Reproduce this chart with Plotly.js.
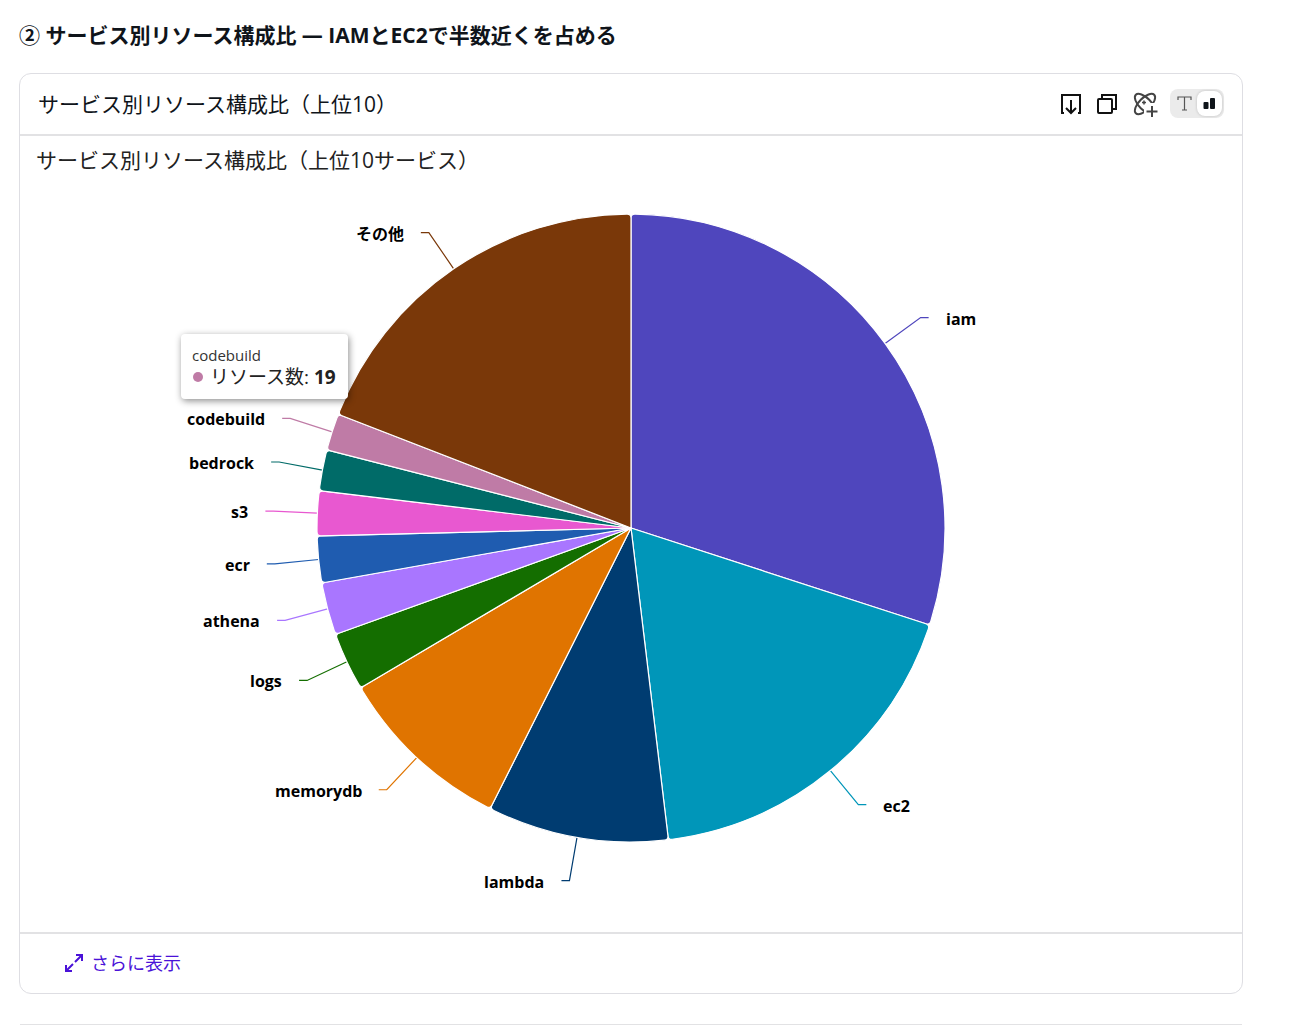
<!DOCTYPE html>
<html lang="ja"><head><meta charset="utf-8">
<script src="https://cdn.plot.ly/plotly-3.0.1.min.js"></script>
<style>
html,body{margin:0;padding:0;background:#fff;width:1298px;height:1025px;overflow:hidden;font-family:"Open Sans","Noto Sans CJK JP",sans-serif;color:#0f141a}
.abs{position:absolute}
#h1{left:19px;top:20px;font-size:21px;font-weight:700;line-height:30px;white-space:nowrap}
#card{left:19px;top:73px;width:1222px;height:919px;border:1px solid #dedee3;border-radius:12px}
#head{left:38px;top:89px;font-size:21px;line-height:30px;white-space:nowrap}
#d1{left:20px;top:134px;width:1222px;height:2px;background:#e2e2e4}
#d2{left:20px;top:932px;width:1222px;height:2px;background:#e2e2e4}
#d3{left:20px;top:1024px;width:1222px;height:1px;background:#e2e2e4}
#plot{left:20px;top:136px;width:1222px;height:796px}
#more{left:91px;top:950px;font-size:18px;line-height:26px;color:#4a12d8;white-space:nowrap}
#tip{left:181px;top:334px;width:167px;height:65px;background:#fff;border-radius:4px;box-shadow:1px 2px 7px rgba(0,0,0,.45);font-size:15px}
#tip .n{position:absolute;left:11px;top:11px;line-height:20px;color:#333}
#tip .v{position:absolute;left:29px;top:30px;line-height:26px;font-size:19px;white-space:nowrap;color:#222}
#tip .dot{position:absolute;left:12px;top:38px;width:10px;height:10px;border-radius:50%}
#toggle{left:1170px;top:89px;width:54px;height:29px;background:#ebebeb;border-radius:8px}
#tgl{left:1197px;top:91px;width:25px;height:25px;background:#fff;border-radius:8px;box-shadow:0 0 3px rgba(0,0,0,.2)}
</style></head><body>
<div id="h1" class="abs">② サービス別リソース構成比 — IAMとEC2で半数近くを占める</div>
<div id="card" class="abs"></div>
<div id="head" class="abs">サービス別リソース構成比（上位10）</div>
<div id="d1" class="abs"></div><div id="d2" class="abs"></div><div id="d3" class="abs"></div>
<svg class="abs" style="left:1060px;top:93px" width="22" height="22" viewBox="0 0 22 22" fill="none" stroke="#111" stroke-width="2"><path d="M4 20H2V2H20V20H18M11 7V20M6 15L11 20L16 15"/></svg>
<svg class="abs" style="left:1096px;top:93px" width="22" height="22" viewBox="0 0 22 22" fill="none" stroke="#111" stroke-width="2"><rect x="2" y="6" width="14" height="14" rx="1"/><path d="M6 6V2H20V16H16"/></svg>
<svg class="abs" style="left:1132px;top:90px" width="28" height="28" viewBox="0 0 28 28" fill="none" stroke="#444" stroke-width="2"><ellipse cx="13" cy="14" rx="13" ry="6" transform="rotate(45 13 14)"/><ellipse cx="13" cy="14" rx="13" ry="6" transform="rotate(-45 13 14)"/><rect x="12" y="13" width="16" height="15" fill="#fff" stroke="none"/><path d="M20 16V27M14.5 21.5H25.5"/><path d="M10 12.5h4M12 10.5v4" stroke-width="1.5"/></svg>
<div id="toggle" class="abs"></div><div id="tgl" class="abs"></div>
<svg class="abs" style="left:1177px;top:96px" width="15" height="15" viewBox="0 0 15 15" fill="none" stroke="#555" stroke-width="1.2"><path d="M1 4V1H14V4M7.5 1V14M5 14H10"/></svg>
<svg class="abs" style="left:1203px;top:97px" width="13" height="13" viewBox="0 0 13 13" fill="#0f141a"><rect x="0.5" y="5" width="5" height="7" rx="1"/><rect x="7" y="1" width="5" height="11" rx="1"/></svg>
<div id="plot" class="abs"></div>
<div id="tip" class="abs"><div class="n" id="tipn"></div><span class="dot" id="tipd"></span><div class="v" id="tipv"></div></div>
<svg class="abs" style="left:64px;top:953px" width="20" height="20" viewBox="0 0 20 20" fill="none" stroke="#4a12d8" stroke-width="2"><path d="M12 2H18V8M18 2L11 9M8 18H2V12M2 18L9 11"/></svg>
<div id="more" class="abs">さらに表示</div>
<script>
const services = ["iam","ec2","lambda","memorydb","logs","athena","ecr","s3","bedrock","codebuild","その他"];
const resourceCounts = [300,181,93,91,30,27,24,23,21,19,191];
const sliceColors = ["#4f46bd","#0096b9","#003c71","#e07400","#146e00","#a976ff","#1f5cb0","#e858d0","#006b68","#bf7ba6","#7a3809"];
const chartTitle = "サービス別リソース構成比（上位10サービス）";
const seriesName = "リソース数";
const hoveredService = "codebuild";

const W=1222,H=796,CX=611,CY=392,R=314,LEAD=44,RUN=8,GAP=16,CORNER=4;
const FONT='"Open Sans","Noto Sans CJK JP",sans-serif';
const px=x=>x/W, py=y=>1-y/H;
const total=resourceCounts.reduce((a,b)=>a+b,0);
const shapes=[],annotations=[],arcs=[];
let cum=0;
services.forEach((s,i)=>{
  const a0=cum/total*2*Math.PI, a1=(cum+resourceCounts[i])/total*2*Math.PI, a=(a0+a1)/2; cum+=resourceCounts[i];
  arcs.push([a0,a1]);
  const sx=Math.sin(a),cy=-Math.cos(a),dir=sx>=0?1:-1;
  const x0=CX+R*sx,y0=CY+R*cy,x1=CX+(R+LEAD)*sx,y1=CY+(R+LEAD)*cy,x2=x1+dir*RUN;
  shapes.push({type:'path',xref:'paper',yref:'paper',layer:'below',
    path:`M${px(x0)},${py(y0)}L${px(x1)},${py(y1)}L${px(x2)},${py(y1)}`,
    line:{color:sliceColors[i],width:1.2}});
  annotations.push({xref:'paper',yref:'paper',x:px(x2+dir*GAP),y:py(y1+1),text:'<b>'+s+'</b>',showarrow:false,
    xanchor:dir>0?'left':'right',yanchor:'middle',borderpad:0,
    font:{size:16,color:'#000',family:FONT}});
});
const h=services.indexOf(hoveredService);
document.getElementById('tipn').textContent=hoveredService;
document.getElementById('tipd').style.background=sliceColors[h];
document.getElementById('tipv').innerHTML=seriesName+': <b>'+resourceCounts[h]+'</b>';
Plotly.newPlot('plot',[{type:'pie',labels:services,values:resourceCounts,sort:false,direction:'clockwise',rotation:0,
  marker:{colors:sliceColors,line:{color:'#fff',width:1.2}},textinfo:'none',hoverinfo:'skip',
  domain:{x:[(CX-R)/W,(CX+R)/W],y:[1-(CY+R)/H,1-(CY-R)/H]}}],
 {width:W,height:H,margin:{l:0,r:0,t:0,b:0},showlegend:false,paper_bgcolor:'rgba(0,0,0,0)',
  title:{text:chartTitle,x:16/W,xref:'container',xanchor:'left',y:1-25/H,yref:'container',yanchor:'middle',
    font:{size:21,color:'#222',family:FONT}},
  shapes,annotations},{displayModeBar:false,staticPlot:true}).then(()=>{
  // round the outer corners of each slice that the library drew
  document.querySelectorAll('#plot .slice path.surface').forEach((p,i)=>{
    const m=/^M([-\d.]+),([-\d.]+)/.exec(p.getAttribute('d')); if(!m) return;
    const cx=+m[1],cy=+m[2],[a0,a1]=arcs[i],d=CORNER/R;
    const P=(r,a)=>(cx+r*Math.sin(a)).toFixed(2)+','+(cy-r*Math.cos(a)).toFixed(2);
    p.setAttribute('d',`M${cx},${cy}L${P(R-CORNER,a0)}Q${P(R,a0)} ${P(R,a0+d)}A${R},${R} 0 ${a1-a0>Math.PI?1:0},1 ${P(R,a1-d)}Q${P(R,a1)} ${P(R-CORNER,a1)}Z`);
  });
});
</script>
</body></html>
